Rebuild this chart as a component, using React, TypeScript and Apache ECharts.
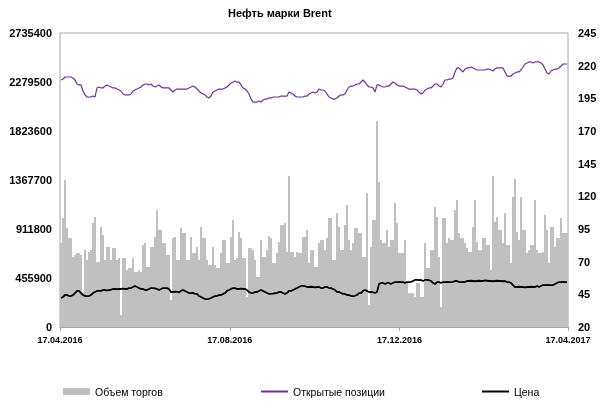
import React, { useEffect, useRef } from 'react';
import * as echarts from 'echarts';

const titleText = 'Нефть марки Brent';
const seriesNames = ['Объем торгов', 'Открытые позиции', 'Цена'];

const axisStart = Date.UTC(2016, 3, 17);
const axisEnd = Date.UTC(2017, 3, 17);
const dateTicks = [Date.UTC(2016, 3, 17), Date.UTC(2016, 7, 17), Date.UTC(2016, 11, 17), Date.UTC(2017, 3, 17)];
const DAY = 86400000;

const leftMin = 0;
const leftMax = 2735400;
const leftStep = 455900;
const rightMin = 20;
const rightMax = 245;
const rightStep = 25;

// Daily trading volume
const volume = [
  782000, 1014000, 1368000, 921000, 828000, 828000, 651000, 670000, 688000, 688000,
  670000, 326000, 716000, 623000, 698000, 716000, 968000, 1023000, 605000, 605000,
  930000, 856000, 623000, 744000, 744000, 623000, 735000, 735000, 623000, 642000,
  112000, 642000, 642000, 530000, 549000, 549000, 642000, 512000, 512000, 530000,
  512000, 763000, 782000,
  558000, 558000, 744000, 744000, 837000, 1089000, 902000, 902000, 782000, 782000,
  670000, 670000, 251000, 828000, 837000, 623000, 623000, 921000, 875000, 875000,
  623000, 623000, 837000, 688000, 688000, 744000, 623000, 930000, 828000, 828000,
  623000, 577000, 577000, 744000, 577000, 549000, 549000, 688000, 809000, 809000,
  595000, 595000, 837000,
  996000, 623000, 642000, 884000, 828000, 642000, 642000, 279000, 735000, 735000,
  716000, 623000, 465000, 465000, 809000, 651000, 651000, 716000, 847000, 828000,
  595000, 595000, 688000, 791000, 949000, 949000, 968000, 698000, 1405000, 698000,
  698000, 651000, 698000, 688000, 688000, 837000, 837000, 902000, 595000, 716000,
  716000, 558000,
  558000, 782000, 809000, 809000, 716000, 828000, 1014000, 1014000, 623000, 623000,
  1061000, 930000, 716000, 716000, 949000, 1135000, 809000, 716000, 782000, 921000,
  921000, 875000, 875000, 651000, 651000, 1247000, 205000, 744000, 996000, 996000,
  1917000, 1349000, 809000, 782000, 782000, 902000, 744000, 809000, 809000, 1154000,
  968000, 688000,
  688000, 688000, 809000, 419000, 316000, 316000, 316000, 279000, 409000, 409000,
  279000, 279000, 782000, 549000, 549000, 716000, 716000, 1116000, 1023000, 651000,
  186000, 1014000, 1014000, 782000, 828000, 809000, 809000, 1089000, 1182000, 875000,
  828000, 828000, 782000, 735000, 698000, 698000, 930000, 1182000, 791000, 716000,
  716000, 828000, 828000,
  763000, 763000, 530000, 1405000, 977000, 1023000, 902000, 902000, 782000, 1061000,
  763000, 763000, 595000, 1210000, 1377000, 884000, 809000, 1210000, 902000, 902000,
  688000, 716000, 763000, 763000, 1182000, 716000, 688000, 688000, 698000, 1042000,
  902000, 595000, 930000, 930000, 744000, 828000, 828000, 1014000, 875000, 875000,
  875000,
];

// Open interest
const openInterest = [
  2298000, 2307000, 2326000, 2326000, 2326000, 2326000, 2317000, 2298000, 2261000, 2252000,
  2252000, 2196000, 2159000, 2140000, 2140000, 2140000, 2149000, 2140000, 2224000, 2233000,
  2224000, 2224000, 2242000, 2252000, 2242000, 2233000, 2224000, 2224000, 2214000, 2205000,
  2196000, 2168000, 2159000, 2159000, 2159000, 2168000, 2196000, 2205000, 2214000, 2224000,
  2233000, 2252000, 2261000, 2261000, 2252000, 2261000, 2242000, 2233000, 2242000, 2252000,
  2233000, 2224000, 2224000, 2224000, 2224000, 2205000, 2186000, 2205000, 2214000, 2214000,
  2214000, 2214000, 2214000, 2214000, 2224000, 2233000, 2242000, 2233000, 2214000, 2196000,
  2177000, 2168000, 2159000, 2140000, 2131000, 2149000, 2186000, 2196000, 2205000, 2214000,
  2214000, 2214000, 2224000, 2233000, 2252000, 2270000, 2279000, 2289000, 2279000, 2279000,
  2252000, 2224000, 2214000, 2196000, 2168000, 2121000, 2093000, 2093000, 2093000, 2103000,
  2093000, 2112000, 2121000, 2121000, 2131000, 2131000, 2140000, 2140000, 2140000, 2140000,
  2149000, 2149000, 2149000, 2149000, 2186000, 2177000, 2168000, 2149000, 2140000, 2140000,
  2140000, 2140000, 2149000, 2149000, 2168000, 2177000, 2186000, 2177000, 2186000, 2214000,
  2205000, 2205000, 2196000, 2168000, 2140000, 2131000, 2121000, 2121000, 2131000, 2149000,
  2159000, 2159000, 2168000, 2205000, 2233000, 2242000, 2242000, 2252000, 2261000, 2261000,
  2279000, 2298000, 2279000, 2252000, 2233000, 2233000, 2224000, 2186000, 2252000, 2252000,
  2242000, 2233000, 2233000, 2242000, 2242000, 2261000, 2279000, 2270000, 2252000, 2242000,
  2242000, 2242000, 2233000, 2224000, 2214000, 2214000, 2214000, 2214000, 2205000, 2186000,
  2168000, 2177000, 2205000, 2214000, 2224000, 2224000, 2242000, 2261000, 2261000, 2242000,
  2233000, 2261000, 2298000, 2298000, 2307000, 2307000, 2317000, 2373000, 2410000, 2410000,
  2391000, 2373000, 2400000, 2410000, 2410000, 2419000, 2410000, 2400000, 2391000, 2391000,
  2391000, 2391000, 2391000, 2400000, 2400000, 2391000, 2382000, 2400000, 2410000, 2410000,
  2410000, 2410000, 2373000, 2335000, 2335000, 2335000, 2354000, 2363000, 2373000, 2373000,
  2391000, 2419000, 2447000, 2456000, 2466000, 2466000, 2456000, 2466000, 2466000, 2466000,
  2456000, 2438000, 2400000, 2363000, 2354000, 2382000, 2391000, 2400000, 2400000, 2410000,
  2428000, 2447000, 2447000, 2447000,
];

// Price
const price = [
  42.2, 43.0, 44.5, 44.5, 43.7, 43.7, 44.5, 46.0, 47.6, 47.6,
  46.0, 44.5, 43.7, 43.7, 43.7, 44.5, 46.0, 46.8, 47.6, 47.6,
  47.6, 48.3, 48.3, 48.1, 48.3, 48.5, 49.1, 49.1, 48.9, 49.1,
  49.1, 49.3, 49.1, 49.1, 49.8, 49.8, 50.6, 51.4, 50.6, 49.8,
  49.1, 49.1, 48.3, 48.3, 49.1, 49.8, 49.8, 49.6, 49.1, 48.3,
  49.1, 49.8, 49.8, 49.8, 49.1, 46.8, 46.8, 47.0, 46.8, 46.6,
  47.6, 48.3, 47.6, 46.8, 46.0, 46.0, 46.2, 45.3, 45.3, 43.7,
  43.0, 42.2, 41.4, 41.4, 41.6, 42.2, 43.0, 43.7, 43.7, 44.5,
  44.5, 45.3, 46.0, 47.6, 48.3, 49.1, 49.8, 49.8, 49.1, 49.1,
  49.3, 49.1, 49.1, 48.3, 46.8, 46.0, 46.0, 46.8, 46.8, 47.6,
  48.3, 47.6, 46.8, 46.0, 45.3, 45.3, 45.5, 46.0, 46.0, 46.8,
  46.8, 46.0, 45.3, 46.0, 47.6, 47.6, 48.3, 49.1, 49.8, 50.6,
  51.4, 51.4, 51.2, 50.6, 50.6, 50.8, 50.6, 50.4, 50.6, 50.6,
  49.8, 49.8, 50.6, 50.6, 49.8, 49.8, 49.1, 48.3, 46.8, 46.8,
  46.0, 45.3, 45.3, 44.5, 44.5, 43.7, 43.7, 43.9, 44.5, 46.0,
  46.0, 47.6, 48.3, 47.6, 46.8, 46.8, 46.6, 46.0, 46.8, 52.9,
  53.7, 53.7, 52.9, 53.7, 53.7, 52.9, 53.7, 54.4, 54.4, 54.6,
  54.4, 54.4, 53.7, 54.4, 54.4, 54.6, 55.2, 56.0, 56.0, 55.8,
  56.0, 55.2, 56.0, 56.0, 55.8, 55.2, 53.7, 52.9, 54.4, 54.4,
  53.7, 54.4, 54.4, 54.6, 54.4, 54.4, 54.6, 55.2, 55.2, 54.4,
  54.4, 54.6, 54.4, 55.2, 55.2, 55.4, 55.2, 55.0, 55.2, 55.4,
  55.2, 55.2, 55.6, 55.4, 55.2, 55.2, 55.0, 55.2, 55.4, 55.2,
  55.2, 55.0, 55.2, 54.4, 54.4, 53.7, 52.1, 50.6, 50.6, 50.8,
  50.6, 50.6, 50.4, 50.6, 50.6, 50.8, 50.6, 50.6, 51.4, 50.6,
  51.4, 52.1, 52.1, 52.3, 52.1, 52.1, 52.1, 52.9, 53.7, 54.4,
  54.4, 54.6, 54.4, 54.4,
];

function fmtDate(t: number): string {
  const d = new Date(t);
  const dd = String(d.getUTCDate()).padStart(2, '0');
  const mm = String(d.getUTCMonth() + 1).padStart(2, '0');
  return dd + '.' + mm + '.' + d.getUTCFullYear();
}

function tradingDays(n: number): string[] {
  const out: string[] = [];
  let t = Date.UTC(2016, 3, 18);
  while (out.length < n) {
    const wd = new Date(t).getUTCDay();
    if (wd !== 0 && wd !== 6) out.push(fmtDate(t));
    t += DAY;
  }
  return out;
}

const categories = tradingDays(volume.length);
const tickDays = dateTicks.map((t) => Math.round((t - axisStart) / DAY));
const spanDays = Math.round((axisEnd - axisStart) / DAY);

export default function App() {
  const ref = useRef<HTMLDivElement>(null);

  useEffect(() => {
    if (!ref.current) return;
    const chart = echarts.init(ref.current, null, { renderer: 'svg' });
    const font = '"Liberation Sans", Arial, sans-serif';
    const legendBase = {
      top: 381,
      itemWidth: 27,
      itemHeight: 7,
      textStyle: { fontSize: 10.5, color: '#000', fontFamily: font },
    };
    chart.setOption({
      animation: false,
      textStyle: { fontFamily: font },
      title: {
        text: titleText,
        left: 228,
        top: 7,
        padding: 0,
        textStyle: { fontSize: 11, fontWeight: 'bold', color: '#000', fontFamily: font },
      },
      legend: [
        { ...legendBase, left: 58, data: [{ name: seriesNames[0], icon: 'rect' }] },
        { ...legendBase, left: 255, data: [{ name: seriesNames[1], itemStyle: { opacity: 0 } }] },
        { ...legendBase, left: 476, data: [{ name: seriesNames[2], itemStyle: { opacity: 0 } }] },
      ],
      grid: {
        left: 60,
        right: 32,
        top: 33,
        bottom: 74,
        show: true,
        borderColor: '#a6a6a6',
        borderWidth: 1,
      },
      xAxis: [
        {
          type: 'category',
          data: categories,
          show: false,
          boundaryGap: true,
        },
        {
          type: 'value',
          min: 0,
          max: spanDays,
          position: 'bottom',
          axisLine: { show: true, lineStyle: { color: '#a6a6a6' } },
          axisTick: { show: true, customValues: tickDays, length: 4, lineStyle: { color: '#a6a6a6' } },
          axisLabel: {
            customValues: tickDays,
            formatter: (v: number) => fmtDate(axisStart + v * DAY),
            fontSize: 9,
            fontWeight: 'bold',
            color: '#000',
            margin: 8,
            showMinLabel: true,
            showMaxLabel: true,
            fontFamily: font,
          },
          splitLine: { show: false },
        },
      ],
      yAxis: [
        {
          type: 'value',
          min: leftMin,
          max: leftMax,
          interval: leftStep,
          axisLine: { show: false },
          axisTick: { show: false },
          splitLine: { show: false },
          axisLabel: {
            fontSize: 11,
            fontWeight: 'bold',
            color: '#000',
            margin: 8,
            fontFamily: font,
            formatter: (v: number) => String(v),
          },
        },
        {
          type: 'value',
          position: 'right',
          min: rightMin,
          max: rightMax,
          interval: rightStep,
          axisLine: { show: false },
          axisTick: { show: false },
          splitLine: { show: false },
          axisLabel: {
            fontSize: 11,
            fontWeight: 'bold',
            color: '#000',
            margin: 10,
            fontFamily: font,
            formatter: (v: number) => String(v),
          },
        },
      ],
      series: [
        {
          name: seriesNames[0],
          type: 'bar',
          xAxisIndex: 0,
          yAxisIndex: 0,
          data: volume,
          barCategoryGap: '0%',
          itemStyle: { color: '#c0c0c0' },
        },
        {
          name: seriesNames[1],
          type: 'line',
          xAxisIndex: 0,
          yAxisIndex: 0,
          data: openInterest,
          symbol: 'none',
          lineStyle: { color: '#7030a0', width: 1.2 },
          itemStyle: { color: '#7030a0' },
        },
        {
          name: seriesNames[2],
          type: 'line',
          xAxisIndex: 0,
          yAxisIndex: 1,
          data: price,
          symbol: 'none',
          lineStyle: { color: '#000', width: 1.8 },
          itemStyle: { color: '#000' },
        },
      ],
    });
    return () => chart.dispose();
  }, []);

  return <div ref={ref} style={{ position: 'fixed', left: 0, top: 0, width: 600, height: 401 }} />;
}
